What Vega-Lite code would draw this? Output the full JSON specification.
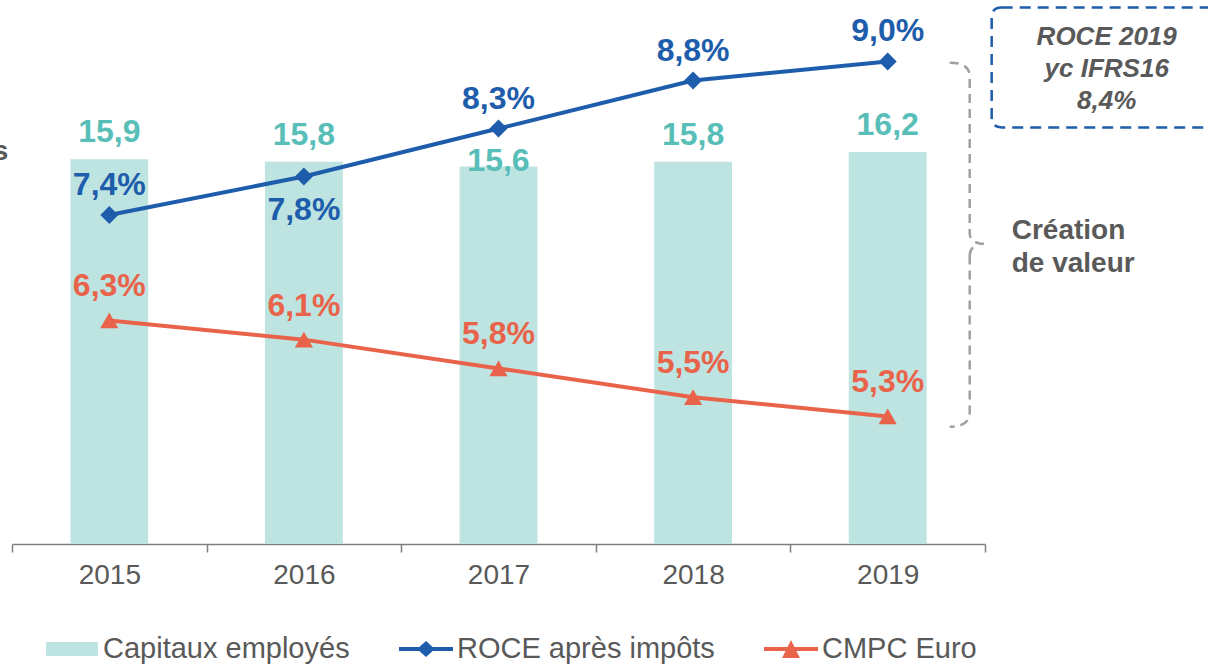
{
  "$schema": "https://vega.github.io/schema/vega-lite/v6.json",
  "width": 973,
  "height": 544,
  "autosize": "none",
  "padding": {"left": 12, "top": 0, "right": 223, "bottom": 125},
  "background": "white",
  "config": {
    "view": {"stroke": null},
    "font": "Liberation Sans",
    "locale": {"number": {"decimal": ",", "thousands": " ", "grouping": [3], "currency": ["", " €"]}},
    "axis": {"grid": false}
  },
  "data": {"values": [
    {"year": "2015", "capitaux": 15.9, "roce": 0.074, "cmpc": 0.063},
    {"year": "2016", "capitaux": 15.8, "roce": 0.078, "cmpc": 0.061},
    {"year": "2017", "capitaux": 15.6, "roce": 0.083, "cmpc": 0.058},
    {"year": "2018", "capitaux": 15.8, "roce": 0.088, "cmpc": 0.055},
    {"year": "2019", "capitaux": 16.2, "roce": 0.090, "cmpc": 0.053}
  ]},
  "layer": [
    {
      "layer": [
        {
          "mark": {"type": "bar", "width": {"band": 0.4}, "opacity": 1},
          "encoding": {
            "x": {
              "field": "year", "type": "ordinal",
              "scale": {"paddingInner": 0, "paddingOuter": 0},
              "axis": {
                "title": null, "labelAngle": 0, "labelFontSize": 28, "labelColor": "#595959",
                "labelFont": "Liberation Sans", "domainColor": "#7F7F7F", "domainWidth": 1.5,
                "tickColor": "#7F7F7F", "tickWidth": 1.5, "tickSize": 8, "tickBand": "extent",
                "labelPadding": 9, "grid": false
              }
            },
            "y": {"field": "capitaux", "type": "quantitative", "scale": {"domain": [0, 22.48], "nice": false, "zero": true}, "axis": null},
            "color": {
              "datum": "Capitaux employés", "type": "nominal",
              "scale": {
                "domain": ["Capitaux employés", "ROCE après impôts", "CMPC Euro"],
                "range": ["#BDE4E1", "#1E5DAB", "#E9634B"]
              },
              "legend": {
                "orient": "none", "legendX": 33, "legendY": 622, "direction": "horizontal",
                "title": null, "labelFontSize": 29, "labelColor": "#595959", "labelFont": "Liberation Sans",
                "labelLimit": 500,
                "symbolSize": 2916, "columnPadding": 49, "labelOffset": 4, "symbolStrokeWidth": 0,
                "symbolOpacity": 1,
                "encoding": {
                  "symbols": {
                    "shape": {
                      "condition": [
                        {"test": "datum.value === 'Capitaux employés'", "value": "M-0.96,-0.26H0.96V0.26H-0.96Z"},
                        {"test": "datum.value === 'ROCE après impôts'", "value": "M-1,-0.074H1V0.074H-1Z M0,-0.3L0.33,0L0,0.3L-0.33,0Z"}
                      ],
                      "value": "M-1,-0.074H1V0.074H-1Z M0,-0.33L0.33,0.33H-0.33Z"
                    },
                    "strokeWidth": {"value": 0}
                  }
                }
              }
            }
          }
        },
        {
          "transform": [{"filter": "datum.year != '2017'"}],
          "mark": {"type": "text", "dy": -17, "baseline": "alphabetic", "align": "center", "fontSize": 32, "fontWeight": "bold", "color": "#57BEB8"},
          "encoding": {
            "x": {"field": "year", "type": "ordinal"},
            "y": {"field": "capitaux", "type": "quantitative"},
            "text": {"field": "capitaux", "type": "quantitative", "format": ".1f"}
          }
        },
        {
          "transform": [{"filter": "datum.year == '2017'"}],
          "mark": {"type": "text", "dy": 5, "baseline": "alphabetic", "align": "center", "fontSize": 32, "fontWeight": "bold", "color": "#57BEB8"},
          "encoding": {
            "x": {"field": "year", "type": "ordinal"},
            "y": {"field": "capitaux", "type": "quantitative"},
            "text": {"field": "capitaux", "type": "quantitative", "format": ".1f"}
          }
        }
      ]
    },
    {
      "layer": [
        {
          "mark": {"type": "line", "strokeWidth": 4},
          "encoding": {
            "x": {"field": "year", "type": "ordinal"},
            "y": {"field": "roce", "type": "quantitative", "scale": {"domain": [0.0397, 0.0964], "nice": false, "zero": false}, "axis": null},
            "color": {"datum": "ROCE après impôts", "type": "nominal"}
          }
        },
        {
          "mark": {"type": "line", "strokeWidth": 4},
          "encoding": {
            "x": {"field": "year", "type": "ordinal"},
            "y": {"field": "cmpc", "type": "quantitative"},
            "color": {"datum": "CMPC Euro", "type": "nominal"}
          }
        },
        {
          "mark": {"type": "point", "shape": "diamond", "filled": true, "size": 324, "opacity": 1},
          "encoding": {
            "x": {"field": "year", "type": "ordinal"},
            "y": {"field": "roce", "type": "quantitative"},
            "color": {"datum": "ROCE après impôts", "type": "nominal"}
          }
        },
        {
          "mark": {"type": "point", "shape": "triangle-up", "filled": true, "size": 330, "opacity": 1},
          "encoding": {
            "x": {"field": "year", "type": "ordinal"},
            "y": {"field": "cmpc", "type": "quantitative"},
            "color": {"datum": "CMPC Euro", "type": "nominal"}
          }
        },
        {
          "transform": [{"filter": "datum.year != '2016'"}],
          "mark": {"type": "text", "dy": -20, "baseline": "alphabetic", "align": "center", "fontSize": 32, "fontWeight": "bold", "color": "#1E5DAB"},
          "encoding": {
            "x": {"field": "year", "type": "ordinal"},
            "y": {"field": "roce", "type": "quantitative"},
            "text": {"field": "roce", "type": "quantitative", "format": ".1%"}
          }
        },
        {
          "transform": [{"filter": "datum.year == '2016'"}],
          "mark": {"type": "text", "dy": 43, "baseline": "alphabetic", "align": "center", "fontSize": 32, "fontWeight": "bold", "color": "#1E5DAB"},
          "encoding": {
            "x": {"field": "year", "type": "ordinal"},
            "y": {"field": "roce", "type": "quantitative"},
            "text": {"field": "roce", "type": "quantitative", "format": ".1%"}
          }
        },
        {
          "mark": {"type": "text", "dy": -24, "baseline": "alphabetic", "align": "center", "fontSize": 32, "fontWeight": "bold", "color": "#E9634B"},
          "encoding": {
            "x": {"field": "year", "type": "ordinal"},
            "y": {"field": "cmpc", "type": "quantitative"},
            "text": {"field": "cmpc", "type": "quantitative", "format": ".1%"}
          }
        },
        {
          "data": {"values": [{"t": "s"}]},
          "mark": {"type": "text", "dx": -101, "dy": 3, "baseline": "alphabetic", "align": "right", "fontSize": 28, "fontWeight": "bold", "color": "#595959"},
          "encoding": {
            "x": {"datum": "2015", "type": "ordinal"},
            "y": {"datum": 0.080, "type": "quantitative"},
            "text": {"field": "t"}
          }
        },
        {
          "data": {"values": [{"t": "box"}]},
          "mark": {"type": "point", "filled": false, "xOffset": 219, "yOffset": 6, "size": 14400, "color": "#1E5DAB", "opacity": 1, "strokeWidth": 2.5, "strokeDash": [11, 7],
            "shape": "M-1.75,-1H2.4Q2.6,-1 2.6,-0.833V0.833Q2.6,1 2.4,1H-1.75Q-1.917,1 -1.917,0.833V-0.833Q-1.917,-1 -1.75,-1Z"},
          "encoding": {
            "x": {"datum": "2019", "type": "ordinal"},
            "y": {"datum": 0.090, "type": "quantitative"}
          }
        },
        {
          "data": {"values": [{"t": ["ROCE 2019", "yc IFRS16", "8,4%"]}]},
          "mark": {"type": "text", "dx": 219, "dy": -24, "baseline": "middle", "align": "center", "lineHeight": 32, "fontSize": 26, "fontWeight": "bold", "fontStyle": "italic", "color": "#595959"},
          "encoding": {
            "x": {"datum": "2019", "type": "ordinal"},
            "y": {"datum": 0.090, "type": "quantitative"},
            "text": {"field": "t"}
          }
        },
        {
          "data": {"values": [{"t": "brace"}]},
          "mark": {"type": "point", "filled": false, "xOffset": 82, "size": 132496, "color": "#A0A0A0", "opacity": 1, "strokeWidth": 2.5, "strokeDash": [9, 6],
            "shape": "M-0.110,-1Q0.0,-1 0.0,-0.923L0.0,-0.06Q0.0,-0.02 0.06,-0.005L0.104,-0.005M0.0,0.06Q0.0,0.02 0.04,0.0M0.0,0.06L0.0,0.923Q0.0,1 -0.110,1"},
          "encoding": {
            "x": {"datum": "2019", "type": "ordinal"},
            "y": {"datum": 0.0709, "type": "quantitative"}
          }
        },
        {
          "data": {"values": [{"t": ["Création", "de valeur"]}]},
          "mark": {"type": "text", "dx": 124, "dy": -14, "baseline": "middle", "align": "left", "lineHeight": 33, "fontSize": 28, "fontWeight": "bold", "color": "#595959"},
          "encoding": {
            "x": {"datum": "2019", "type": "ordinal"},
            "y": {"datum": 0.0709, "type": "quantitative"},
            "text": {"field": "t"}
          }
        }
      ]
    }
  ],
  "resolve": {"scale": {"y": "independent"}}
}
